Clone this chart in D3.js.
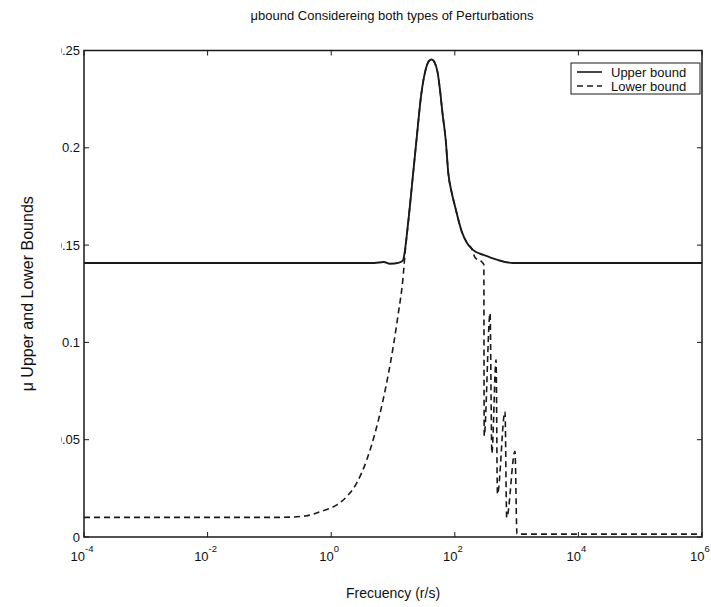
<!DOCTYPE html>
<html>
<head>
<meta charset="utf-8">
<script src="https://cdn.jsdelivr.net/npm/d3@7"></script>
<style>
  body { margin: 0; background: #fff; }
  svg text { font-family: "Liberation Sans", Arial, sans-serif; fill: #111; }
</style>
</head>
<body>
<div id="chart"></div>
<script>
// frequency (r/s) and mu values
var upperFreq = [0.0001, 5.0, 7.1, 8.9, 12.6, 14.4, 17.8, 20.9, 24.0, 28.8, 33.1, 38.0, 42.3, 46.8,
                 52.5, 57.5, 63.1, 71.3, 78.5, 89.1, 100.7, 129.4, 158.5, 187.5, 213.8, 288.4, 478.6, 871, 1e6];
var upperMu = [0.1408, 0.1408, 0.1413, 0.1404, 0.1410, 0.1420, 0.163, 0.185, 0.204, 0.228, 0.239, 0.2445, 0.2454, 0.244,
               0.239, 0.230, 0.218, 0.204, 0.187, 0.177, 0.170, 0.157, 0.151, 0.1482, 0.1467, 0.145, 0.1425, 0.1408, 0.1408];

var lowerFreq = [0.0001, 0.148, 0.38, 0.66, 1.23, 1.78, 2.57, 3.76, 5.13, 6.92, 10.1, 12.2, 14.4, 15.8,
                 17.8, 20.9, 24.0, 28.8, 33.1, 38.0, 42.3, 46.8, 52.5, 57.5, 63.1, 71.3, 78.5, 89.1, 100.7, 129.4, 158.5, 187.5,
                 213.8, 269, 295, 299, 372, 398, 465, 490, 649, 692, 942, 1014, 1e6];
var lowerMu = [0.0101, 0.0101, 0.0108, 0.013, 0.0165, 0.0207, 0.0276, 0.0396, 0.0535, 0.0705, 0.098, 0.115, 0.132, 0.147,
               0.163, 0.185, 0.204, 0.228, 0.239, 0.2445, 0.2454, 0.244, 0.239, 0.230, 0.218, 0.204, 0.187, 0.177, 0.170, 0.157, 0.151, 0.1482,
               0.1435, 0.1416, 0.1400, 0.052, 0.115, 0.043, 0.091, 0.022, 0.0645, 0.010, 0.044, 0.0015, 0.0015];

var xTicks = [1e-4, 1e-2, 1, 1e2, 1e4, 1e6];
var xTickExp = ["-4", "-2", "0", "2", "4", "6"];
var yTicks = [0, 0.05, 0.1, 0.15, 0.2, 0.25];
var yTickLabels = ["0", "0.05", "0.1", "0.15", "0.2", "0.25"];
var seriesNames = ["Upper bound", "Lower bound"];

var W = 711, H = 607;
var margin = {top: 50.5, right: 9, bottom: 70, left: 84};
var width = W - margin.left - margin.right,
    height = H - margin.top - margin.bottom;

var svg = d3.select("#chart").append("svg")
    .attr("width", W)
    .attr("height", H);

var x = d3.scaleLog().domain([1e-4, 1e6]).range([0, width]);
var y = d3.scaleLinear().domain([0, 0.25]).range([height, 0]);

var g = svg.append("g")
    .attr("transform", "translate(" + margin.left + "," + margin.top + ")");

// clip the tick labels at the left like the source image
svg.append("clipPath").attr("id", "leftclip")
  .append("rect").attr("x", 61).attr("y", 0).attr("width", W).attr("height", H);

var col = "#1a1a1a";

// lines
var upperData = upperFreq.map(function(f, i) { return {f: f, v: upperMu[i]}; });
var lowerData = lowerFreq.map(function(f, i) { return {f: f, v: lowerMu[i]}; });
var line = d3.line()
    .curve(d3.curveMonotoneX)
    .x(function(d) { return x(d.f); })
    .y(function(d) { return y(d.v); });

g.append("path").datum(lowerData)
    .attr("d", line)
    .attr("fill", "none")
    .attr("stroke", col)
    .attr("stroke-width", 1.6)
    .attr("stroke-dasharray", "6,4");

g.append("path").datum(upperData)
    .attr("d", line)
    .attr("fill", "none")
    .attr("stroke", col)
    .attr("stroke-width", 1.9)
    .attr("stroke-linejoin", "round");

// box
g.append("rect")
    .attr("width", width).attr("height", height)
    .attr("fill", "none").attr("stroke", col).attr("stroke-width", 1.5);

// inside ticks, all four sides
var tl = 5;
xTicks.forEach(function(t) {
  g.append("line").attr("x1", x(t)).attr("x2", x(t)).attr("y1", height).attr("y2", height - tl)
    .attr("stroke", col).attr("stroke-width", 1);
  g.append("line").attr("x1", x(t)).attr("x2", x(t)).attr("y1", 0).attr("y2", tl)
    .attr("stroke", col).attr("stroke-width", 1);
});
yTicks.forEach(function(t) {
  g.append("line").attr("x1", 0).attr("x2", tl).attr("y1", y(t)).attr("y2", y(t))
    .attr("stroke", col).attr("stroke-width", 1);
  g.append("line").attr("x1", width).attr("x2", width - tl).attr("y1", y(t)).attr("y2", y(t))
    .attr("stroke", col).attr("stroke-width", 1);
});

// y tick labels
svg.append("g").attr("clip-path", "url(#leftclip)")
  .selectAll("text").data(yTicks).enter().append("text")
    .attr("x", margin.left - 4)
    .attr("y", function(d) { return margin.top + y(d) + 4.5; })
    .attr("text-anchor", "end")
    .style("font-size", "13px")
    .text(function(d, i) { return yTickLabels[i]; });

// x tick labels 10^n
xTicks.forEach(function(t, i) {
  var tx = svg.append("text")
      .attr("x", margin.left + x(t) - 2)
      .attr("y", margin.top + height + 24)
      .attr("text-anchor", "middle")
      .style("font-size", "13px");
  tx.append("tspan").text("10");
  tx.append("tspan").attr("dy", -9).style("font-size", "9.5px").text(xTickExp[i]);
});

// titles
svg.append("text")
    .attr("x", 392).attr("y", 20)
    .attr("text-anchor", "middle")
    .style("font-size", "13px")
    .text("\u03bcbound Considereing both types of Perturbations");

svg.append("text")
    .attr("x", margin.left + width / 2).attr("y", 598)
    .attr("text-anchor", "middle")
    .style("font-size", "14px")
    .text("Frecuency (r/s)");

svg.append("text")
    .attr("transform", "translate(33," + (margin.top + height / 2) + ") rotate(-90)")
    .attr("text-anchor", "middle")
    .style("font-size", "16px")
    .text("\u03bc Upper and Lower Bounds");

// legend
var lg = svg.append("g").attr("transform", "translate(571,63)");
lg.append("rect").attr("width", 129).attr("height", 31)
    .attr("fill", "#fff").attr("stroke", col).attr("stroke-width", 1);
seriesNames.forEach(function(name, i) {
  var ly = 9 + i * 14;
  lg.append("line").attr("x1", 6).attr("x2", 31).attr("y1", ly).attr("y2", ly)
    .attr("stroke", col).attr("stroke-width", 1.6)
    .attr("stroke-dasharray", i === 1 ? "6,4" : null);
  lg.append("text").attr("x", 40).attr("y", ly + 4.5)
    .style("font-size", "13px").text(name);
});
</script>
</body>
</html>
